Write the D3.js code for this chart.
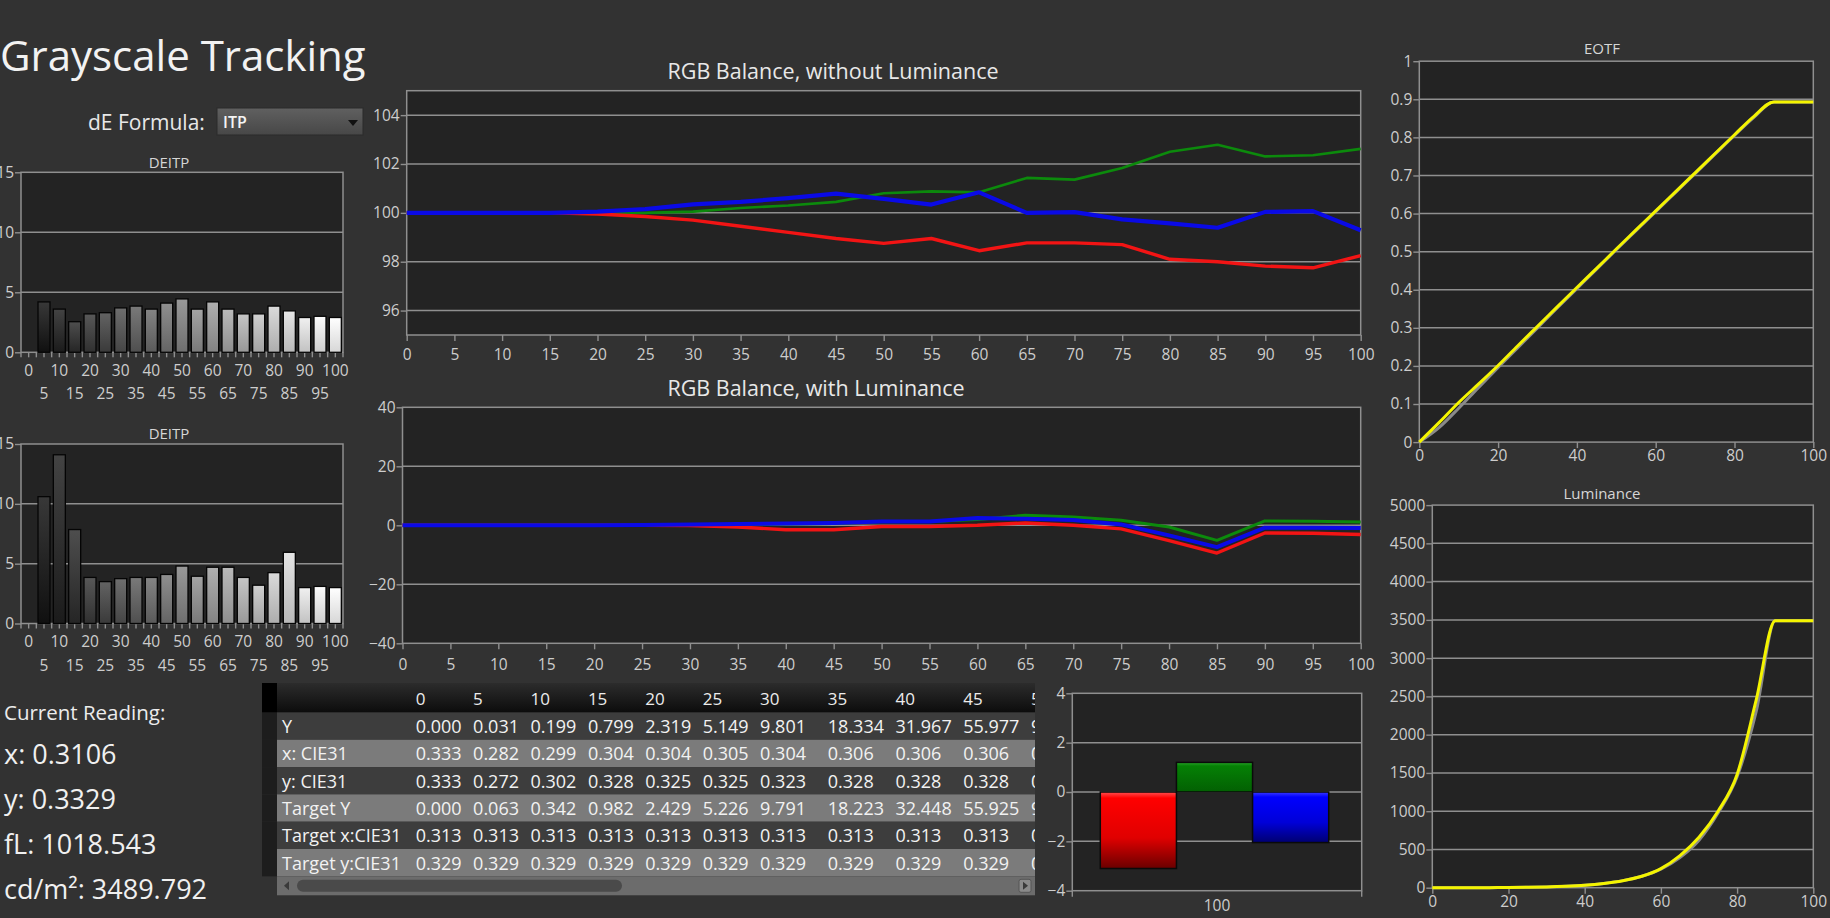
<!DOCTYPE html>
<html>
<head>
<meta charset="utf-8">
<title>Grayscale Tracking</title>
<script src="https://cdn.jsdelivr.net/npm/d3@7"></script>
<style>
  html, body { margin: 0; padding: 0; background: #323232; overflow: hidden; }
  svg { display: block; }
  text { font-family: "Open Sans", "Noto Sans", sans-serif; }
</style>
</head>
<body>
<svg id="chart" width="1830" height="918"></svg>
<script>
// stimulus levels (%)
const steps = [0, 5, 10, 15, 20, 25, 30, 35, 40, 45, 50, 55, 60, 65, 70, 75, 80, 85, 90, 95, 100];

// dE ITP per step (two runs)
const deitpUpper = [0, 4.2, 3.6, 2.55, 3.2, 3.3, 3.7, 3.85, 3.6, 4.1, 4.45, 3.6, 4.2, 3.6, 3.2, 3.2, 3.85, 3.45, 2.9, 3.0, 2.9];
const deitpLower = [0, 10.6, 14.1, 7.85, 3.85, 3.5, 3.75, 3.85, 3.85, 4.1, 4.8, 3.95, 4.7, 4.7, 3.85, 3.2, 4.25, 5.95, 3.0, 3.1, 3.0];

// RGB balance without luminance (%)
const balRed   = [100, 100, 100, 100, 99.95, 99.85, 99.7, 99.45, 99.2, 98.95, 98.75, 98.95, 98.45, 98.77, 98.77, 98.7, 98.1, 98.0, 97.82, 97.75, 98.25];
const balGreen = [100, 100, 100, 100, 100, 100, 100.05, 100.2, 100.3, 100.45, 100.8, 100.88, 100.84, 101.43, 101.36, 101.84, 102.5, 102.79, 102.31, 102.36, 102.62];
const balBlue  = [100, 100, 100, 100, 100.05, 100.15, 100.35, 100.45, 100.6, 100.79, 100.57, 100.34, 100.84, 100.0, 100.03, 99.73, 99.57, 99.39, 100.04, 100.07, 99.29];

// RGB balance with luminance
const lumBalRed   = [0, 0, 0, 0, 0, 0, -0.1, -0.6, -1.5, -1.5, -0.4, -0.4, 0, 0.8, 0, -1.2, -5.2, -9.4, -2.6, -2.7, -3.1];
const lumBalGreen = [0, 0, 0, 0, 0, 0, 0, 0.2, 0.4, 0.6, 1.2, 1.3, 2.0, 3.4, 2.8, 1.7, -0.6, -5.1, 1.5, 1.4, 1.1];
const lumBalBlue  = [0, 0, 0, 0, 0, 0.1, 0.3, 0.4, 0.6, 0.8, 1.3, 1.3, 2.5, 2.2, 1.8, 0.3, -3.4, -7.4, -0.8, -0.8, -0.9];

// EOTF (normalised) and luminance (cd/m2)
const eotfMeasured = [0, 0.051, 0.104, 0.152, 0.201, 0.253, 0.304, 0.355, 0.406, 0.456, 0.507, 0.557, 0.607, 0.657, 0.707, 0.757, 0.807, 0.856, 0.893, 0.893, 0.893];
const eotfTarget   = [0, 0.038, 0.089, 0.143, 0.196, 0.248, 0.3, 0.352, 0.403, 0.454, 0.505, 0.555, 0.605, 0.655, 0.705, 0.755, 0.805, 0.853, 0.893, 0.893, 0.893];
const lumMeasured  = [0, 0.031, 0.199, 0.799, 2.319, 5.149, 9.801, 18.334, 31.967, 55.977, 92, 150, 250, 420, 660, 1000, 1480, 2450, 3490, 3490, 3490];
const lumTarget    = [0, 0.063, 0.342, 0.982, 2.429, 5.226, 9.791, 18.223, 32.448, 55.925, 92.2, 149.8, 243.6, 393.7, 620, 975, 1450, 2300, 3490, 3490, 3490];

// RGB deviation at 100%
const rgbNames = ['R', 'G', 'B'];
const rgbAt100 = [-3.1, 1.2, -2.05];

// table
const tableCols = ['0', '5', '10', '15', '20', '25', '30', '35', '40', '45', '50'];
const tableRowNames = ['Y', 'x: CIE31', 'y: CIE31', 'Target Y', 'Target x:CIE31', 'Target y:CIE31'];
const rowY       = [0.000, 0.031, 0.199, 0.799, 2.319, 5.149, 9.801, 18.334, 31.967, 55.977, 92.160];
const rowX       = [0.333, 0.282, 0.299, 0.304, 0.304, 0.305, 0.304, 0.306, 0.306, 0.306, 0.306];
const rowYy      = [0.333, 0.272, 0.302, 0.328, 0.325, 0.325, 0.323, 0.328, 0.328, 0.328, 0.328];
const rowTargetY = [0.000, 0.063, 0.342, 0.982, 2.429, 5.226, 9.791, 18.223, 32.448, 55.925, 92.246];
const rowTargetX = [0.313, 0.313, 0.313, 0.313, 0.313, 0.313, 0.313, 0.313, 0.313, 0.313, 0.313];
const rowTargety = [0.329, 0.329, 0.329, 0.329, 0.329, 0.329, 0.329, 0.329, 0.329, 0.329, 0.329];

const readingLabels = ['x: 0.3106', 'y: 0.3329', 'fL: 1018.543', 'cd/m²: 3489.792'];

// ---------- drawing ----------
const GRID = '#8f8f8f', TICK = '#cdcdcd', PLOT = '#232323';
const svg = d3.select('#chart');
const defs = svg.append('defs');

function vGrad(id, stops) {
  const g = defs.append('linearGradient').attr('id', id).attr('x1', 0).attr('x2', 0).attr('y1', 0).attr('y2', 1);
  stops.forEach(([o, c]) => g.append('stop').attr('offset', o).attr('stop-color', c));
  return `url(#${id})`;
}

function styleAxis(sel, fs) {
  sel.attr('font-size', fs);
  sel.select('.domain').remove();
  sel.selectAll('.tick line').attr('stroke', GRID).attr('stroke-width', 1.4);
  sel.selectAll('.tick text').attr('fill', TICK);
}

function plotBox(x0, y0, x1, y1, yScale, gridVals) {
  svg.append('rect').attr('x', x0).attr('y', y0).attr('width', x1 - x0).attr('height', y1 - y0).attr('fill', PLOT);
  svg.append('g').selectAll('line').data(gridVals).join('line')
    .attr('x1', x0).attr('x2', x1).attr('y1', d => yScale(d)).attr('y2', d => yScale(d))
    .attr('stroke', GRID).attr('stroke-width', 1.5);
  svg.append('rect').attr('x', x0).attr('y', y0).attr('width', x1 - x0).attr('height', y1 - y0)
    .attr('fill', 'none').attr('stroke', GRID).attr('stroke-width', 1.5);
}

function text(x, y, s, fs, opts = {}) {
  return svg.append('text').attr('x', x).attr('y', y).text(s)
    .attr('font-size', fs).attr('fill', opts.fill || '#e6e6e6')
    .attr('text-anchor', opts.anchor || 'start')
    .attr('dominant-baseline', 'central')
    .attr('font-weight', opts.weight || null);
}

// title & selector
text(0, 54, 'Grayscale Tracking', 42, { fill: '#f2f2f2' });
text(88, 122, 'dE Formula:', 21, { fill: '#e8e8e8' });
svg.append('rect').attr('x', 217).attr('y', 108).attr('width', 146).attr('height', 27)
  .attr('fill', vGrad('dd', [[0, '#606060'], [1, '#474747']])).attr('stroke', '#2b2b2b');
text(223, 122, 'ITP', 16, { fill: '#f4f4f4', weight: 600 });
svg.append('path').attr('d', 'M348,120 L358,120 L353,126 Z').attr('fill', '#111');

// dE ITP bar charts
function deChart(values, y0, y1, titleY, id) {
  const x = d3.scaleLinear().domain([-2.5, 102.5]).range([21, 343]);
  const y = d3.scaleLinear().domain([0, 15]).range([y1, y0]);
  plotBox(21, y0, 343, y1, y, [5, 10]);
  text(169, titleY, 'DEITP', 15, { anchor: 'middle', fill: '#d6d6d6' });
  const ax = svg.append('g').attr('transform', `translate(21,0)`)
    .call(d3.axisLeft(y).tickValues([0, 5, 10, 15]).tickSize(6).tickPadding(1));
  styleAxis(ax, 15.5);
  svg.append('g').selectAll('line').data(d3.range(-2.5, 103, 2.5)).join('line')
    .attr('x1', d => x(d)).attr('x2', d => x(d)).attr('y1', y1).attr('y2', y1 + 5)
    .attr('stroke', GRID).attr('stroke-width', 1.4);
  const data = steps.map((s, i) => ({ s, v: values[i] })).filter(d => d.v > 0);
  data.forEach(d => {
    const L = 255 * d.s / 100;
    const top = Math.min(255, Math.round(L * 0.85 + 45)), bot = Math.round(L * 0.82 + 6);
    d.fill = vGrad(`${id}${d.s}`, [[0, d3.rgb(top, top, top)], [1, d3.rgb(bot, bot, bot)]]);
  });
  svg.append('g').selectAll('rect').data(data).join('rect')
    .attr('x', d => x(d.s) - 6).attr('width', 12)
    .attr('y', d => y(d.v)).attr('height', d => y(0) - y(d.v))
    .attr('fill', d => d.fill).attr('stroke', '#050505').attr('stroke-width', 1.3);
  svg.append('g').selectAll('text').data(steps).join('text')
    .attr('x', d => x(d)).attr('y', d => y1 + (d % 10 === 0 ? 17.5 : 41))
    .attr('text-anchor', 'middle').attr('dominant-baseline', 'central')
    .attr('font-size', 15.5).attr('fill', TICK).text(d => d);
}
deChart(deitpUpper, 172.3, 352.3, 162, 'du');
deChart(deitpLower, 444, 623.5, 433, 'dl');

// RGB balance line charts
function balanceChart(o) {
  const x = d3.scaleLinear().domain([0, 100]).range([o.x0, o.x1]);
  const y = d3.scaleLinear().domain(o.yDomain).range([o.y1, o.y0]);
  plotBox(o.x0, o.y0, o.x1, o.y1, y, o.grid);
  const ay = svg.append('g').attr('transform', `translate(${o.x0},0)`)
    .call(d3.axisLeft(y).tickValues(o.yTicks).tickSize(6).tickPadding(1));
  styleAxis(ay, 15.5);
  const ax = svg.append('g').attr('transform', `translate(0,${o.y1})`)
    .call(d3.axisBottom(x).tickValues(steps).tickSize(6).tickPadding(o.pad));
  styleAxis(ax, 15.5);
  const line = d3.line().x((d, i) => x(steps[i])).y(d => y(d));
  o.series.forEach(([vals, col, w]) => {
    svg.append('path').datum(vals).attr('d', line).attr('fill', 'none')
      .attr('stroke', col).attr('stroke-width', w).attr('stroke-linejoin', 'round');
  });
  text(o.titleX, o.titleY, o.title, 21.5, { anchor: 'middle', fill: '#e8e8e8' });
}
balanceChart({
  x0: 406.7, x1: 1360.7, y0: 90.7, y1: 335, yDomain: [95, 105], grid: [96, 98, 100, 102, 104],
  yTicks: [96, 98, 100, 102, 104], pad: 8, titleX: 833, titleY: 70, title: 'RGB Balance, without Luminance',
  series: [[balGreen, '#0c8a0c', 2.6], [balRed, '#f21414', 3.4], [balBlue, '#0a0ae6', 4.2]]
});
balanceChart({
  x0: 402.5, x1: 1360.7, y0: 407.3, y1: 643.3, yDomain: [-40, 40], grid: [-20, 0, 20],
  yTicks: [-40, -20, 0, 20, 40], pad: 10, titleX: 816, titleY: 387, title: 'RGB Balance, with Luminance',
  series: [[lumBalGreen, '#0c8a0c', 3], [lumBalRed, '#f21414', 3.4], [lumBalBlue, '#0a0ae6', 4]]
});

// RGB deviation bars at 100%
{
  const x0 = 1072.3, x1 = 1361.7, y0 = 693.3, y1 = 890.7;
  const y = d3.scaleLinear().domain([-4, 4]).range([y1, y0]);
  const outer = d3.scaleBand().domain(['100']).range([x0, x1]);
  const inner = d3.scaleBand().domain(rgbNames).range([x0 + 28, x1 - 33]);
  plotBox(x0, y0, x1, y1, y, [-2, 0, 2]);
  const ay = svg.append('g').attr('transform', `translate(${x0},0)`)
    .call(d3.axisLeft(y).tickValues([-4, -2, 0, 2, 4]).tickSize(6).tickPadding(1));
  styleAxis(ay, 15.5);
  const ax = svg.append('g').attr('transform', `translate(0,${y1})`)
    .call(d3.axisBottom(outer).tickSize(0).tickPadding(9));
  styleAxis(ax, 15.5);
  [x0, x1].forEach(xx => svg.append('line').attr('x1', xx).attr('x2', xx).attr('y1', y1).attr('y2', y1 + 6)
    .attr('stroke', GRID).attr('stroke-width', 1.4));
  const fills = {
    R: vGrad('gr', [[0, '#ff5050'], [0.08, '#ff0000'], [0.6, '#e00000'], [1, '#6a0000']]),
    G: vGrad('gg', [[0, '#2aa52a'], [0.12, '#058005'], [1, '#036003']]),
    B: vGrad('gb', [[0, '#3a3aff'], [0.1, '#0000ff'], [0.6, '#0000d8'], [1, '#000070']])
  };
  svg.append('g').selectAll('rect').data(rgbNames.map((n, i) => ({ n, v: rgbAt100[i] }))).join('rect')
    .attr('x', d => inner(d.n)).attr('width', inner.bandwidth())
    .attr('y', d => y(Math.max(0, d.v))).attr('height', d => Math.abs(y(d.v) - y(0)))
    .attr('fill', d => fills[d.n]).attr('stroke', '#0a0a0a').attr('stroke-width', 1.5);
}

// EOTF & luminance
function curveChart(o) {
  const x = d3.scaleLinear().domain([0, 100]).range([o.x0, o.x1]);
  const y = d3.scaleLinear().domain(o.yDomain).range([o.y1, o.y0]);
  plotBox(o.x0, o.y0, o.x1, o.y1, y, o.yTicks.slice(1, -1));
  const ay = svg.append('g').attr('transform', `translate(${o.x0},0)`)
    .call(d3.axisLeft(y).tickValues(o.yTicks).tickSize(6).tickPadding(1).tickFormat(o.fmt));
  styleAxis(ay, 15.5);
  const ax = svg.append('g').attr('transform', `translate(0,${o.y1})`)
    .call(d3.axisBottom(x).tickValues([0, 20, 40, 60, 80, 100]).tickSize(6).tickPadding(2));
  styleAxis(ax, 15.5);
  const line = d3.line().x((d, i) => x(steps[i])).y(d => y(d)).curve(d3.curveMonotoneX);
  svg.append('path').datum(o.target).attr('d', line).attr('fill', 'none').attr('stroke', '#8a8a8a').attr('stroke-width', 3);
  svg.append('path').datum(o.measured).attr('d', line).attr('fill', 'none').attr('stroke', '#f4f400').attr('stroke-width', 3);
  text(1602, o.titleY, o.title, 15, { anchor: 'middle', fill: '#d6d6d6' });
}
curveChart({
  x0: 1419.3, x1: 1813.3, y0: 61.2, y1: 442.1, yDomain: [0, 1],
  yTicks: [0, 0.1, 0.2, 0.3, 0.4, 0.5, 0.6, 0.7, 0.8, 0.9, 1], fmt: d3.format('.1~f'),
  measured: eotfMeasured, target: eotfTarget, title: 'EOTF', titleY: 48
});
curveChart({
  x0: 1432.3, x1: 1813.3, y0: 505.1, y1: 887.7, yDomain: [0, 5000],
  yTicks: [0, 500, 1000, 1500, 2000, 2500, 3000, 3500, 4000, 4500, 5000], fmt: d3.format('d'),
  measured: lumMeasured, target: lumTarget, title: 'Luminance', titleY: 493
});

// data table (scrolled view: last column only partly visible)
{
  const tx0 = 262, tx1 = 1035, headTop = 683, headH = 29.5, rowH = 27.3;
  defs.append('clipPath').attr('id', 'tclip').append('rect')
    .attr('x', tx0).attr('y', headTop).attr('width', tx1 - tx0).attr('height', 240);
  const tg = svg.append('g').attr('clip-path', 'url(#tclip)');
  const rows = [rowY, rowX, rowYy, rowTargetY, rowTargetX, rowTargety];
  const last = tableCols.length - 1;
  const cell = (s, i) => i === last ? s.slice(0, 2) : s;   // only a sliver of the last column shows
  const colW = tableCols.map((c, i) => i < 6 ? 57.4 : 67.7);
  const colX = colW.map((w, i) => 415.7 + d3.sum(colW.slice(0, i)));
  tg.append('rect').attr('x', tx0).attr('y', headTop).attr('width', tx1 - tx0).attr('height', headH)
    .attr('fill', vGrad('th', [[0, '#2c2c2c'], [1, '#0c0c0c']]));
  tg.append('rect').attr('x', tx0).attr('y', headTop).attr('width', 15).attr('height', headH).attr('fill', '#000');
  tg.selectAll('.hc').data(tableCols).join('text').attr('class', 'hc')
    .attr('x', (d, i) => colX[i]).attr('y', headTop + headH / 2 + 1).attr('dominant-baseline', 'central')
    .attr('font-size', 17).attr('fill', '#ececec').text((d, i) => cell(d, i));
  rows.forEach((vals, r) => {
    const ry = headTop + headH + r * rowH;
    tg.append('rect').attr('x', tx0).attr('y', ry).attr('width', 15).attr('height', rowH).attr('fill', '#1d1d1d');
    tg.append('rect').attr('x', tx0 + 15).attr('y', ry).attr('width', tx1 - tx0 - 15).attr('height', rowH)
      .attr('fill', r % 2 ? '#7b7b7b' : '#3d3d3d');
    tg.append('text').attr('x', 282).attr('y', ry + rowH / 2).attr('dominant-baseline', 'central')
      .attr('font-size', 18).attr('fill', '#f2f2f2').text(tableRowNames[r]);
    tg.selectAll(null).data(vals).join('text')
      .attr('x', (d, i) => colX[i]).attr('y', ry + rowH / 2).attr('dominant-baseline', 'central')
      .attr('font-size', 18).attr('fill', '#f2f2f2').text((d, i) => cell(d.toFixed(3), i));
  });
  const sy = headTop + headH + 6 * rowH;
  svg.append('rect').attr('x', tx0 + 15).attr('y', sy).attr('width', tx1 - tx0 - 15).attr('height', 19).attr('fill', '#6c6c6c');
  svg.append('rect').attr('x', 297).attr('y', sy + 3.5).attr('width', 325).attr('height', 12).attr('rx', 6).attr('fill', '#4a4a4a');
  svg.append('path').attr('d', `M284,${sy + 9.5} L289,${sy + 5} L289,${sy + 14} Z`).attr('fill', '#3a3a3a');
  svg.append('rect').attr('x', 1019).attr('y', sy + 3).attr('width', 12).attr('height', 13).attr('rx', 2).attr('fill', '#8a8a8a').attr('stroke', '#555');
  svg.append('path').attr('d', `M1023,${sy + 5.5} L1028,${sy + 9.5} L1023,${sy + 13.5} Z`).attr('fill', '#3a3a3a');
}

// current reading
text(4, 712, 'Current Reading:', 20.5, { fill: '#ececec' });
svg.append('g').selectAll('text').data(readingLabels).join('text')
  .attr('x', 4).attr('y', (d, i) => 753 + i * 45).attr('dominant-baseline', 'central')
  .attr('font-size', 27).attr('fill', '#f0f0f0').text(d => d);
</script>
</body>
</html>
